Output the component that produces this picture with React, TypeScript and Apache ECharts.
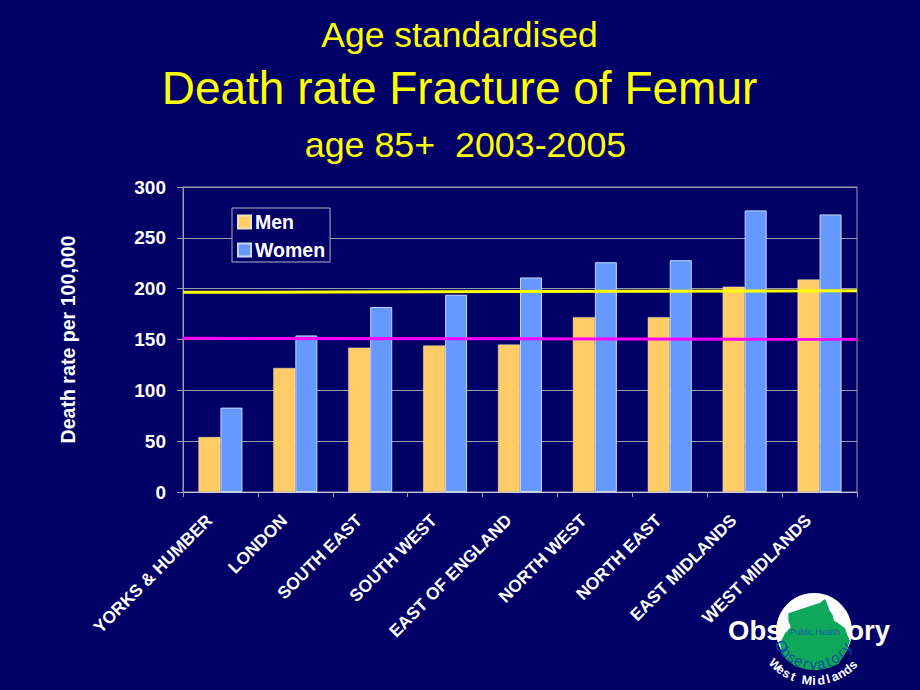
import React, { useEffect, useRef } from "react";
import * as echarts from "echarts";

const regions = ["YORKS & HUMBER","LONDON","SOUTH EAST","SOUTH WEST","EAST OF ENGLAND","NORTH WEST","NORTH EAST","EAST MIDLANDS","WEST MIDLANDS"];
const men = [54,122,142,144,145,172,172,202,209];
const women = [83,154,182,194,211,226,228,277,273];
const yellowLine = [[0,196.4],[1,198]];
const magentaLine = [[0,151.2],[1,150.2]];
const FONT = "Liberation Sans";
const NAVY = "#000066";
const GREY = "#9a9ab0";
const blob: number[][] = [[130,45],[150,38],[165,27],[172,42],[178,60],[188,75],[192,92],[205,100],[225,115],[232,135],[240,152],[232,175],[225,192],[205,222],[172,235],[140,241],[105,238],[75,228],[48,208],[35,185],[30,160],[45,130],[62,112],[55,92],[55,70],[78,62],[100,55]];
const observatoryArc = "Observatory".split("");
const westArc = "West Midlands".split("");

function arcText(chars: string[], cx: number, cy: number, r: number, startDeg: number, endDeg: number, color: string, font: string) {
  return chars.map((c, i) => {
    const deg = startDeg + (endDeg - startDeg) * (i / (chars.length - 1));
    const a = (deg * Math.PI) / 180;
    return {
      type: "text", z: 30, x: cx + r * Math.cos(a), y: cy + r * Math.sin(a), rotation: ((90 - deg) * Math.PI) / 180,
      style: { text: c, fill: color, font, align: "center", verticalAlign: "middle" },
    };
  });
}

export default function App() {
  const ref = useRef<HTMLDivElement>(null);
  useEffect(() => {
    document.body.style.margin = "0";
    document.body.style.background = NAVY;
    const chart = echarts.init(ref.current!, undefined, { renderer: "svg" });
    const bold = { fontFamily: FONT, fontWeight: "bold" as const, color: "#fff" };
    const yellowTitle = (fontSize: number) => ({ color: "#ffff00", fontFamily: FONT, fontWeight: "normal" as const, fontSize });
    chart.setOption({
      animation: false,
      backgroundColor: NAVY,
      title: [
        { text: "Age standardised", left: 454.5, top: 12, textAlign: "center", textStyle: yellowTitle(35.5) },
        { text: "Death rate Fracture of Femur", left: 454.5, top: 60, textAlign: "center", textStyle: yellowTitle(46) },
        { text: "age 85+  2003-2005", left: 460.5, top: 122, textAlign: "center", textStyle: yellowTitle(35.8) },
      ],
      legend: {
        data: ["Men", "Women"], orient: "vertical", left: 232, top: 208, padding: [4, 5, 2, 5], itemGap: 8, itemWidth: 13, itemHeight: 13,
        borderColor: "#b0b0c8", borderWidth: 1, backgroundColor: NAVY, icon: "rect",
        textStyle: { ...bold, fontSize: 19.5, padding: [0, 0, 0, -1] },
      },
      grid: { left: 183, top: 187, width: 674, height: 305, show: true, borderColor: GREY, borderWidth: 1, backgroundColor: "transparent" },
      xAxis: [
        {
          type: "category", data: regions, axisTick: { show: true, length: 5, lineStyle: { color: GREY } },
          axisLine: { lineStyle: { color: "#c8c8d8" } },
          axisLabel: { ...bold, fontSize: 17.3, rotate: 45, interval: 0, margin: 14, padding: [0, 16, 0, 0] },
        },
        { type: "value", min: 0, max: 1, show: false },
      ],
      yAxis: {
        type: "value", min: 0, max: 300, interval: 50,
        name: "Death rate per 100,000", nameLocation: "middle", nameGap: 105, nameRotate: 90,
        nameTextStyle: { ...bold, fontSize: 19.6 },
        axisLine: { show: true, lineStyle: { color: GREY } },
        axisTick: { show: true, length: 6, lineStyle: { color: GREY } },
        splitLine: { lineStyle: { color: GREY } },
        axisLabel: { ...bold, fontSize: 19, margin: 17 },
      },
      series: [
        { name: "Men", type: "bar", data: men, barWidth: 22, barGap: "0%", itemStyle: { color: "#ffcc66", borderColor: "#e8e0c8", borderWidth: 0.5 }, z: 3 },
        { name: "Women", type: "bar", data: women, barWidth: 22, barGap: "0%", itemStyle: { color: "#6699ff", borderColor: "#c8d8f8", borderWidth: 1 }, z: 3 },
        { name: "Yellow", type: "line", xAxisIndex: 1, data: yellowLine, symbol: "none", lineStyle: { color: "#ffff00", width: 3 }, z: 5 },
        { name: "Magenta", type: "line", xAxisIndex: 1, data: magentaLine, symbol: "none", lineStyle: { color: "#ff00ff", width: 3 }, z: 5 },
      ],
      graphic: [
        { type: "text", z: 20, x: 728, y: 616, style: { text: "Observatory", fill: "#fff", font: `bold 27.5px "${FONT}"` } },
        { type: "circle", z: 25, shape: { cx: 814, cy: 631, r: 38 }, style: { fill: "#fff" } },
        { type: "polygon", z: 26, shape: { points: blob.map(([x, y]) => [770 + x / 3, 590 + y / 3]) }, style: { fill: "#0fa85a" } },
        { type: "text", z: 30, x: 815, y: 632, style: { text: "Public Health", fill: "#1060a8", font: `8.5px "${FONT}"`, align: "center", verticalAlign: "middle" } },
        ...arcText(observatoryArc, 814, 626, 38, 148, 34, "#0b4f96", `15px "${FONT}"`),
        ...arcText(westArc, 814, 626, 55, 135, 45, "#fff", `bold 12.5px "${FONT}"`),
      ],
    });
    return () => chart.dispose();
  }, []);
  return <div ref={ref} style={{ width: 920, height: 690 }} />;
}
